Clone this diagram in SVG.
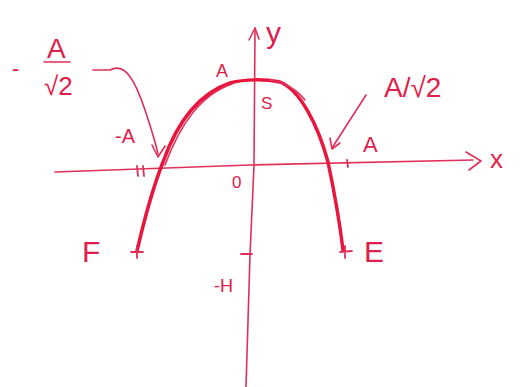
<svg xmlns="http://www.w3.org/2000/svg" width="522" height="387" viewBox="0 0 522 387">
<style>
.ax{fill:none;stroke:#e0305a;stroke-width:1.6;stroke-linecap:round;stroke-linejoin:round}
.cv{fill:none;stroke:#e8153c;stroke-width:3.5;stroke-linecap:round;stroke-linejoin:round}
.tk{fill:none;stroke:#e0305a;stroke-width:1.8;stroke-linecap:round}
.t{font-family:"Liberation Sans",Arial,sans-serif;fill:#e0204a}
</style>
<rect width="522" height="387" fill="#fff"/>
<g id="axes">
<path class="ax" d="M55,172 L250,165 L473,160"/>
<path class="ax" d="M466,152 L481,161 L469,170"/>
<path class="ax" d="M246,387 L250,255 L254,165 L255,28"/>
<path class="ax" d="M249,40 L255,28 L259,39"/>
<text class="t" x="490" y="168" font-size="26">x</text>
<text class="t" x="266" y="43" font-size="30">y</text>
</g>
<g id="curve">
<path class="cv" d="M137,251 C143,225 152,190 163,162 C175,128 195,95 230,83 C245,79 265,79 280,82 C300,90 318,125 328,162 C335,195 340,225 343,250"/>
<path class="ax" d="M165,165 C180,125 200,95 232,84"/>
<path class="ax" d="M270,80 C290,84 298,92 305,100"/>
</g>
<g id="ticks">
<path class="tk" d="M131,252 L143,252 M137,246 L137,258"/>
<path class="tk" d="M340,252 L352,251 M345,246 L345,258"/>
<path class="tk" d="M241,254 L252,254"/>
<path class="tk" d="M347,160 L348,167"/>
<path class="tk" d="M137,166 L138,176 M143,166 L144,176"/>
</g>
<g id="labels">
<text class="t" x="82" y="262" font-size="30">F</text>
<text class="t" x="364" y="262" font-size="30">E</text>
<text class="t" x="214" y="292" font-size="18">-H</text>
<text class="t" x="232" y="188" font-size="17">0</text>
<text class="t" x="216" y="77" font-size="18">A</text>
<text class="t" x="261" y="109" font-size="17">S</text>
<text class="t" x="363" y="152" font-size="22">A</text>
<text class="t" x="115" y="143" font-size="20">-A</text>
<text class="t" x="384" y="97" font-size="28">A/√2</text>
<text class="t" x="12" y="76" font-size="22">-</text>
<text class="t" x="47" y="58" font-size="28">A</text>
<path class="ax" d="M44,62 L70,62"/>
<text class="t" x="44" y="95" font-size="26">√2</text>
</g>
<g id="connectors">
<path class="ax" d="M93,70 L110,70 C125,62 135,80 145,110 C150,125 155,140 158,154"/>
<path class="ax" d="M152,145 L158,157 L165,146"/>
<path class="ax" d="M366,95 L332,148"/>
<path class="ax" d="M330,138 L332,149 L340,143"/>
</g>
</svg>
